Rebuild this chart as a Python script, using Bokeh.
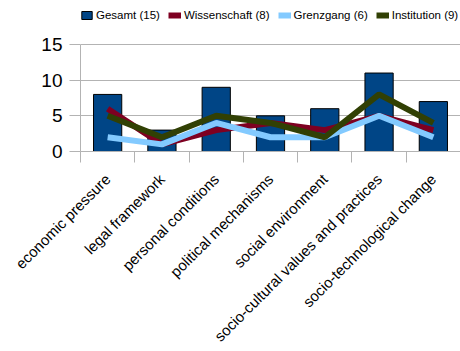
from bokeh.plotting import figure
from bokeh.models import Range1d, FixedTicker, Legend, LegendItem, ColumnDataSource
from bokeh.embed import file_html
from bokeh.resources import INLINE
import math

categories = ["economic pressure", "legal framework", "personal conditions",
              "political mechanisms", "social environment",
              "socio-cultural values and practices", "socio-technological change"]
gesamt = [8, 3, 9, 5, 6, 11, 7]
wissenschaft = [6, 1, 3, 4, 3, 5, 3]
grenzgang = [2, 1, 4, 2, 2, 5, 2]
institution = [5, 2, 5, 4, 2, 8, 4]
series_names = ["Gesamt (15)", "Wissenschaft (8)", "Grenzgang (6)", "Institution (9)"]
y_ticks = [0, 5, 10, 15]

xs = [i + 1 for i in range(len(categories))]
src = ColumnDataSource(dict(x=xs, gesamt=gesamt, wissenschaft=wissenschaft,
                            grenzgang=grenzgang, institution=institution))

FONT = "Liberation Sans"
Y_MAX = y_ticks[-1]
Y_TOP = Y_MAX * 151 / 107  # headroom above the axis for the legend

p = figure(frame_width=380, frame_height=151, output_backend="svg", toolbar_location=None,
           title=None, x_range=Range1d(0.5, len(categories) + 0.5),
           y_range=Range1d(0, Y_TOP), min_border_left=80, min_border_right=0,
           min_border_top=0, min_border_bottom=0, outline_line_color=None)

bars = p.vbar(x="x", top="gesamt", width=0.52, source=src, fill_color="#004586",
              line_color="#000000", line_width=1)
l1 = p.line(x="x", y="wissenschaft", source=src, line_color="#7e0021", line_width=6)
l2 = p.line(x="x", y="grenzgang", source=src, line_color="#83caff", line_width=6)
l3 = p.line(x="x", y="institution", source=src, line_color="#314004", line_width=6)

# axes
p.xaxis.ticker = FixedTicker(ticks=xs, minor_ticks=[x - 0.5 for x in xs] + [xs[-1] + 0.5])
p.xaxis.major_label_overrides = {x: c for x, c in zip(xs, categories)}
p.xaxis.major_label_orientation = math.pi / 4
p.xaxis.major_tick_out = 0
p.xaxis.major_tick_in = 0
p.xaxis.minor_tick_out = 11
p.xaxis.minor_tick_in = 0
p.xaxis.minor_tick_line_color = "#b3b3b3"
p.xaxis.axis_line_color = "#b3b3b3"
p.xaxis.major_label_text_font = FONT
p.xaxis.major_label_text_font_size = "15px"
p.xaxis.major_label_text_color = "#000000"
p.xaxis.major_label_standoff = 14

p.yaxis.ticker = FixedTicker(ticks=y_ticks, minor_ticks=[])
p.yaxis.bounds = (0, Y_MAX)
p.yaxis.major_tick_out = 11
p.yaxis.major_tick_in = 0
p.yaxis.major_tick_line_color = "#b3b3b3"
p.yaxis.axis_line_color = "#b3b3b3"
p.yaxis.major_label_text_font = FONT
p.yaxis.major_label_text_font_size = "19px"
p.yaxis.major_label_text_color = "#000000"
p.yaxis.major_label_standoff = 7

p.xgrid.grid_line_color = None
p.ygrid.ticker = FixedTicker(ticks=y_ticks)
p.ygrid.grid_line_color = "#b3b3b3"

legend = Legend(items=[LegendItem(label=series_names[0], renderers=[bars]),
                       LegendItem(label=series_names[1], renderers=[l1]),
                       LegendItem(label=series_names[2], renderers=[l2]),
                       LegendItem(label=series_names[3], renderers=[l3])],
                orientation="horizontal", location=(0, 129),
                label_text_font=FONT, label_text_font_size="11.5px",
                label_text_color="#000000",
                glyph_width=13, glyph_height=10, label_standoff=3, spacing=8,
                padding=0, margin=0, border_line_color=None,
                background_fill_alpha=0, label_height=14)
p.add_layout(legend, "center")

open("out.html", "w").write(file_html(p, INLINE))
